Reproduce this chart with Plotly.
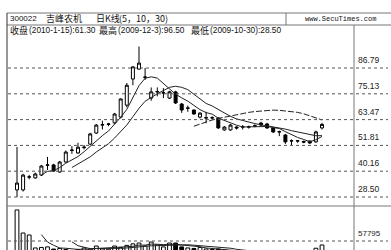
import plotly.graph_objects as go
import numpy as np
import pandas as pd

W, H = 391, 250

opens = [31.7, 31.7, 37.5, 37.1, 38.4, 42.8, 43.0, 39.8, 44.3, 49.5,
         48.4, 50.8, 52.4, 57.4, 61.0, 61.3, 62.0, 64.6, 70.0, 81.8,
         86.3, 82.5, 73.2, 76.0, 75.5, 73.2, 76.0, 70.5, 68.6, 67.8,
         64.6, 64.2, 64.2, 64.2, 58.8, 58.8, 60.1, 60.1, 60.1, 60.6,
         61.9, 61.5, 59.7, 57.9, 56.5, 53.8, 53.8, 53.6, 53.8, 53.4, 59.7]
highs = [51.1, 39.0, 38.5, 39.5, 43.0, 46.6, 43.5, 44.8, 49.5, 51.5,
         53.0, 52.0, 57.5, 61.5, 63.0, 62.0, 66.5, 73.0, 80.0, 87.5,
         96.5, 86.8, 78.0, 78.0, 77.7, 76.5, 76.5, 71.0, 69.8, 68.0,
         66.8, 67.0, 65.0, 64.5, 60.5, 61.5, 60.5, 61.0, 60.8, 61.3,
         62.5, 62.0, 60.0, 58.5, 57.0, 54.5, 54.2, 54.0, 54.0, 58.5, 62.0]
lows = [28.5, 31.0, 36.5, 36.8, 38.0, 40.7, 40.0, 39.5, 44.0, 48.0,
        48.0, 50.0, 52.0, 57.0, 59.0, 60.5, 61.5, 64.0, 69.0, 79.0,
        86.0, 81.4, 72.0, 74.0, 73.2, 72.8, 70.5, 66.5, 67.0, 65.8,
        64.0, 61.8, 63.5, 59.3, 58.5, 58.5, 59.0, 59.0, 59.4, 60.0,
        60.5, 59.3, 57.5, 56.0, 52.5, 52.0, 53.0, 52.8, 52.5, 53.0, 59.0]
closes = [34.8, 38.4, 37.6, 38.9, 42.5, 43.0, 40.2, 44.3, 48.8, 49.7,
          51.0, 51.0, 57.0, 61.0, 61.2, 61.5, 66.0, 72.8, 79.0, 87.3,
          89.0, 82.7, 76.0, 76.1, 75.6, 76.0, 71.0, 67.8, 68.7, 66.0,
          66.4, 64.3, 64.3, 59.7, 60.1, 61.0, 59.7, 60.2, 60.2, 60.7,
          61.0, 59.7, 57.9, 58.0, 53.4, 53.9, 53.9, 53.3, 52.9, 57.9, 61.3]
volumes = [88200, 65600, 63700, 51000, 51500, 52000, 49900, 50500, 49500, 48500,
           49500, 51000, 50000, 52900, 50000, 49800, 52900, 51500, 53500, 55000,
           55800, 53000, 56800, 54000, 52000, 55800, 55800, 52000, 51000, 50500,
           51500, 50000, 49500, 50000, 49000, 48000, 45000, 44000, 43000, 42000,
           42500, 43000, 44000, 41000, 45000, 42000, 40000, 40000, 41000, 50700, 53900]

price_ticks = [28.50, 40.16, 51.81, 63.47, 75.13, 86.79]
price_tick_labels = ["28.50", "40.16", "51.81", "63.47", "75.13", "86.79"]
vol_ticks = [57795]
vol_tick_labels = ["57795"]
title_code = "300022"
title_name = "吉峰农机"
title_kind = "日K线"
title_params = "(5，10，30)"
site_text = "www.SecuTimes.com"
stat_names = ["收盘", "最高", "最低"]
stat_values = ["(2010-1-15):61.30", "(2009-12-3):96.50", "(2009-10-30):28.50"]
ma_periods = [5, 10, 30]
vol_ma_periods = [5, 10]

idx = np.arange(len(closes))
cl = pd.Series(closes)
vo = pd.Series(volumes)

def px(x):
    return x / W

def py(y):
    return 1 - y / H

CJK = "Noto Sans CJK SC, sans-serif"
LAT = "Liberation Sans, Arial, sans-serif"

fig = go.Figure()

fig.add_trace(go.Candlestick(
    x=idx, open=opens, high=highs, low=lows, close=closes,
    increasing=dict(line=dict(color="black", width=1), fillcolor="white"),
    decreasing=dict(line=dict(color="black", width=1), fillcolor="black"),
    whiskerwidth=0, xaxis="x", yaxis="y", hoverinfo="skip", showlegend=False))

dashes = {5: "solid", 10: "solid", 30: "6px,2px"}
for p in ma_periods:
    ma = cl.rolling(p).mean()
    fig.add_trace(go.Scatter(x=idx, y=ma, mode="lines",
                             line=dict(color="#222", width=1, dash=dashes[p]),
                             xaxis="x", yaxis="y", showlegend=False, hoverinfo="skip"))

up = [c >= o for o, c in zip(opens, closes)]
fig.add_trace(go.Bar(x=idx, y=volumes, width=0.62,
                     marker=dict(color=["white" if u else "black" for u in up],
                                 line=dict(color="black", width=1)),
                     xaxis="x2", yaxis="y2", showlegend=False, hoverinfo="skip"))
for p in vol_ma_periods:
    vm = vo.rolling(p).mean()
    fig.add_trace(go.Scatter(x=idx, y=vm, mode="lines",
                             line=dict(color="#222", width=1),
                             xaxis="x2", yaxis="y2", showlegend=False, hoverinfo="skip"))

# axis pixel mapping: candle i at x = 17 + 6.1*i
x0, dx = 17.0, 6.1
xr = [-x0 / dx, (W - x0) / dx]
ppu = 25.8 / 11.658
p_lo = 28.5 - (206 - 197) / ppu
p_hi = 28.5 + (197 - 40) / ppu
vpp = 57795 / (300 - 241)
v_lo = (300 - 250) * vpp
v_hi = (300 - 206) * vpp

fig.update_layout(
    width=W, height=H, margin=dict(l=0, r=0, t=0, b=0),
    paper_bgcolor="white", plot_bgcolor="rgba(0,0,0,0)",
    xaxis=dict(domain=[0, 1], range=xr, visible=False, rangeslider=dict(visible=False)),
    yaxis=dict(domain=[py(206), py(40)], range=[p_lo, p_hi], visible=False),
    xaxis2=dict(domain=[0, 1], range=xr, visible=False, anchor="y2", matches="x"),
    yaxis2=dict(domain=[0, py(206)], range=[v_lo, v_hi], visible=False, anchor="x2"),
    bargap=0,
)

shapes = []
LC = "#777"
shapes.append(dict(type="line", xref="paper", yref="paper", x0=px(7), x1=1, y0=py(13), y1=py(13), line=dict(color=LC, width=1)))
shapes.append(dict(type="line", xref="paper", yref="paper", x0=px(7), x1=1, y0=py(25), y1=py(25), line=dict(color=LC, width=1)))
shapes.append(dict(type="line", xref="paper", yref="paper", x0=px(286), x1=px(286), y0=py(13), y1=py(25), line=dict(color=LC, width=1)))
shapes.append(dict(type="line", xref="paper", yref="paper", x0=px(7), x1=px(7), y0=py(13), y1=0, line=dict(color="#333", width=1)))
shapes.append(dict(type="line", xref="paper", yref="paper", x0=px(354), x1=px(354), y0=py(25), y1=0, line=dict(color=LC, width=1)))
shapes.append(dict(type="line", xref="paper", yref="paper", x0=px(7), x1=1, y0=py(206), y1=py(206), line=dict(color=LC, width=1)))
for t in price_ticks:
    shapes.append(dict(type="line", xref="paper", yref="y", x0=px(8), x1=px(388), y0=t, y1=t,
                       line=dict(color="#555", width=1, dash="dot")))
for t in vol_ticks:
    shapes.append(dict(type="line", xref="paper", yref="y2", x0=px(8), x1=px(388), y0=t, y1=t,
                       line=dict(color="#555", width=1, dash="dot")))
fig.update_layout(shapes=shapes)

ann = []
def text(x, y, s, size=9, family=CJK, anchor="left"):
    ann.append(dict(x=px(x), y=py(y), xref="paper", yref="paper", text=s, showarrow=False,
                    xanchor=anchor, yanchor="middle", xshift=0, font=dict(size=size, family=family, color="#111")))

text(8, 19, title_code, size=8, family=LAT)
text(44, 19, title_name, size=9)
text(94, 19, title_kind, size=9)
text(117, 19, title_params, size=9)
text(340, 19, site_text, size=7, family="Liberation Mono, DejaVu Sans Mono, monospace", anchor="center")
for nm, val, xn, xv in zip(stat_names, stat_values, [8, 97, 189], [27, 116, 208]):
    text(xn, 30, nm, size=9)
    text(xv, 30, val, size=8.3, family=LAT)

for t, lab in zip(price_ticks, price_tick_labels):
    ann.append(dict(x=px(356), y=t, xref="paper", yref="y", text=lab, showarrow=False,
                    xanchor="left", yanchor="bottom", yshift=1,
                    font=dict(size=8.5, family=LAT, color="#222")))
for t, lab in zip(vol_ticks, vol_tick_labels):
    ann.append(dict(x=px(356), y=t, xref="paper", yref="y2", text=lab, showarrow=False,
                    xanchor="left", yanchor="bottom", yshift=1,
                    font=dict(size=8, family=LAT, color="#222")))
fig.update_layout(annotations=ann)

fig.write_html("out.html", config={"displayModeBar": False, "staticPlot": True},
               post_script="document.body.style.margin='0';document.body.style.overflow='hidden';")
